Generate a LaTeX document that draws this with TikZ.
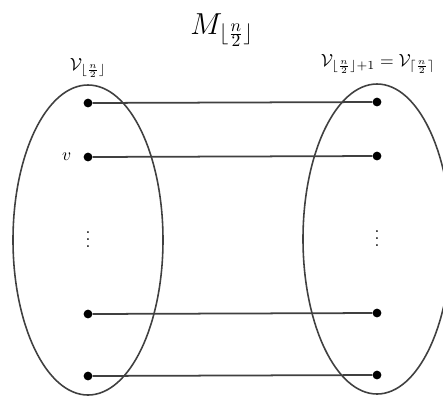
\documentclass[tikz,border=0pt]{standalone}
\usepackage{amsmath}
\usepackage{xcolor}
\usepackage{tikz}
\definecolor{setgray}{RGB}{64,64,64}

\begin{document}
\begin{tikzpicture}[x=0.02cm,y=-0.02cm,
    dot/.style={circle,fill=black,inner sep=0pt,minimum size=5pt},
    match/.style={draw=setgray,line width=1pt},
    partset/.style={draw=setgray,line width=0.9pt}]
  \useasboundingbox (0,0) rectangle (443,397);
  \node[font=\LARGE] (title) at (222,30) {$M_{\lfloor\frac{n}{2}\rfloor}$};
  \draw[partset] (88,240) ellipse [x radius=75, y radius=155];
  \draw[partset] (377,239) ellipse [x radius=74, y radius=155];
  \node (vleft) at (88,68) {$\mathcal{V}_{\lfloor\frac{n}{2}\rfloor}$};
  \node (vright) at (378,64) {$\mathcal{V}_{\lfloor\frac{n}{2}\rfloor+1}=\mathcal{V}_{\lceil\frac{n}{2}\rceil}$};
  \foreach \i/\y in {1/103,2/157,3/314,4/376} {
    \node[dot] (l\i) at (88,\y) {};
    \node[dot] (r\i) at (377,\y-1) {};
    \draw[match] (l\i) -- (r\i);
  }
  \node[left=6pt] (vlab) at (l2) {$v$};
  \node[inner sep=0pt] (ldots) at (88,234) {$\vdots$};
  \node[inner sep=0pt] (rdots) at (377,233) {$\vdots$};
\end{tikzpicture}
\end{document}
